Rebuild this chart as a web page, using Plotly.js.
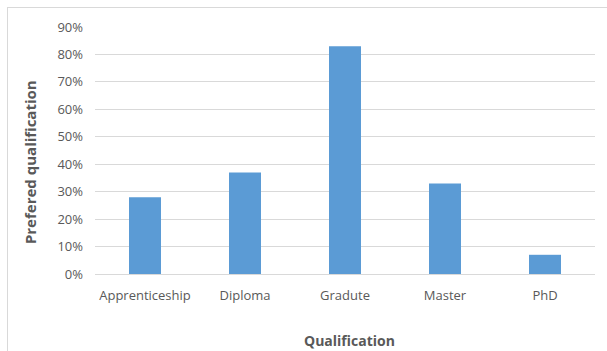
<!DOCTYPE html>
<html><head><meta charset="utf-8">
<script src="https://cdn.plot.ly/plotly-3.0.1.min.js"></script>
<style>
html,body{margin:0;padding:0;background:#fff;overflow:hidden;}
#frame{position:absolute;left:7px;top:7px;width:600px;height:344px;border-left:1px solid #d9d9d9;border-top:1px solid #d9d9d9;box-sizing:border-box;}
#chart{position:absolute;left:0;top:0;width:607px;height:351px;}
</style></head>
<body>
<div id="frame"></div>
<div id="chart"></div>
<script>
const categories = ["Apprenticeship", "Diploma", "Gradute", "Master", "PhD"];
const values = [0.28, 0.37, 0.83, 0.33, 0.07];
const yTickVals = [0, 0.1, 0.2, 0.3, 0.4, 0.5, 0.6, 0.7, 0.8, 0.9];
const xTitle = "Qualification";
const yTitle = "Prefered qualification";

const font = "Open Sans, Liberation Sans, sans-serif";
Plotly.newPlot("chart", [{
  type: "bar",
  x: categories,
  y: values,
  marker: {color: "#5b9bd5"},
  hoverinfo: "none"
}], {
  width: 607, height: 351,
  margin: {l: 95, r: 12, t: 27, b: 77},
  paper_bgcolor: "rgba(0,0,0,0)",
  plot_bgcolor: "rgba(0,0,0,0)",
  bargap: 0.68,
  showlegend: false,
  xaxis: {
    showgrid: false, showline: true, linecolor: "#d9d9d9", linewidth: 1,
    ticks: "", ticklabelstandoff: 9, tickfont: {family: font, size: 13, color: "#595959"}
  },
  yaxis: {
    range: [0, 0.9], tickvals: yTickVals, tickformat: ".0%",
    showgrid: true, gridcolor: "#d9d9d9", gridwidth: 1, zeroline: false,
    ticks: "", ticklabelstandoff: 11, tickfont: {family: font, size: 13, color: "#595959"}
  },
  annotations: [
    {text: "<b>" + xTitle + "</b>", xref: "paper", yref: "paper", x: 0.508, y: -0.271,
     xanchor: "center", yanchor: "middle", showarrow: false,
     font: {family: font, size: 14, color: "#595959"}},
    {text: "<b>" + yTitle + "</b>", xref: "paper", yref: "paper", x: -0.13, y: 0.453,
     xanchor: "center", yanchor: "middle", showarrow: false, textangle: -90,
     font: {family: font, size: 15, color: "#595959"}}
  ]
}, {staticPlot: true});
</script>
</body></html>
